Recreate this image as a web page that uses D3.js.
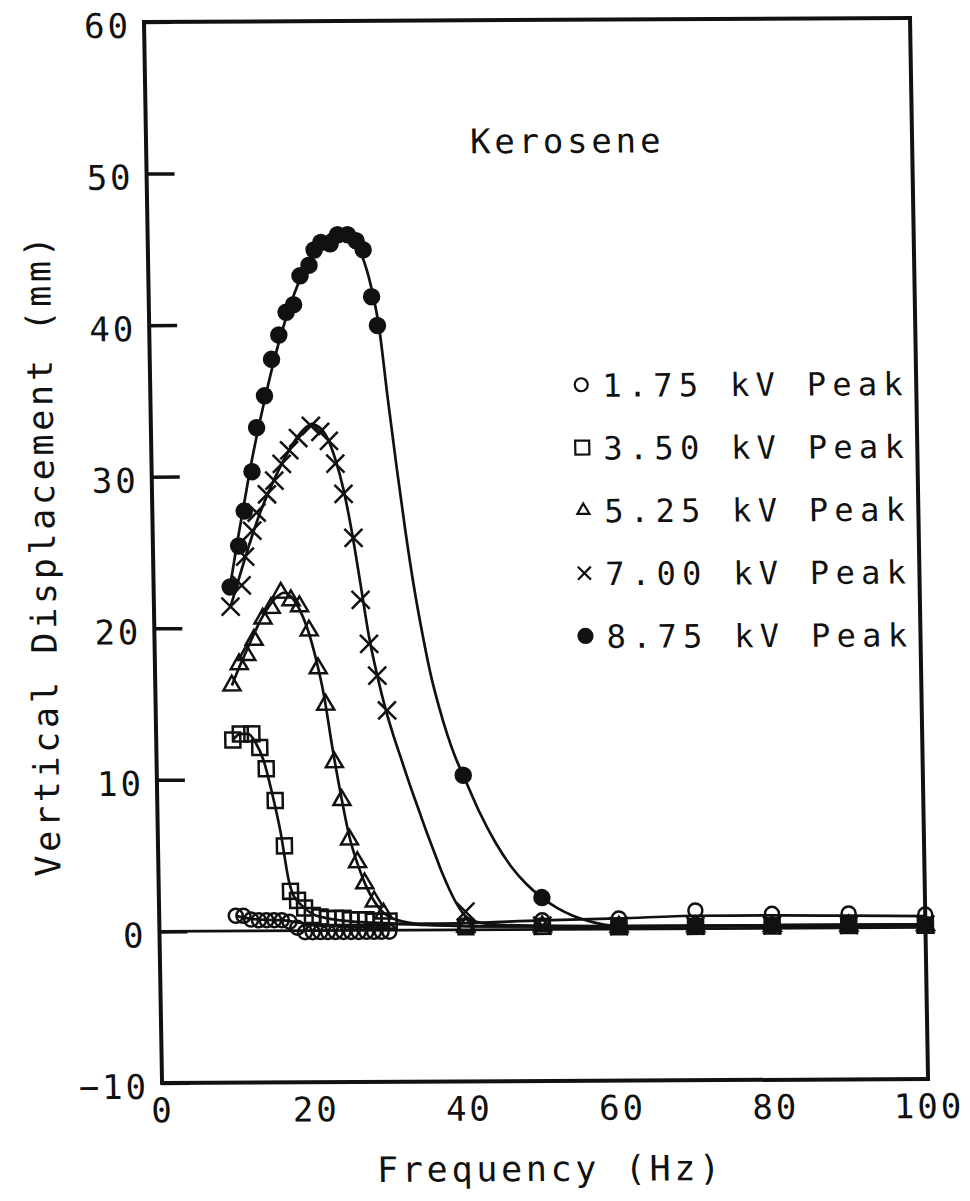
<!DOCTYPE html>
<meta charset="utf-8">
<style>
  body { margin: 0; background: #fff; }
  svg text { font-family: "DejaVu Sans Mono", monospace; fill: #111; }
  .axis text { font-size: 34px; letter-spacing: 3px; }
  .axis line { stroke: #111; stroke-width: 3.5px; }
  .curve { fill: none; stroke: #111; stroke-width: 2.7px; }
  .mark { stroke: #111; stroke-width: 2.5px; }
</style>
<body>
<script src="https://cdn.jsdelivr.net/npm/d3@7/dist/d3.min.js"></script>
<script>

  var xTicks = [0, 20, 40, 60, 80, 100];
  var yTicks = [-10, 0, 10, 20, 30, 40, 50, 60];
  var legendLabels = ["1.75 kV Peak", "3.50 kV Peak", "5.25 kV Peak", "7.00 kV Peak", "8.75 kV Peak"];
  var legendMarks = ["circle", "square", "triangle", "cross", "dot"];

  // measured points (Hz, mm)
  var f175 = [10,11,12,13,14,15,16,17,18,19,20,21,22,23,24,25,26,27,28,29,30,40,50,60,70,80,90,100];
  var d175 = [1.0,1.0,0.75,0.7,0.7,0.7,0.7,0.6,0.2,-0.1,-0.1,-0.1,-0.1,-0.1,-0.1,-0.1,-0.1,-0.1,-0.1,-0.1,-0.1,0.3,0.6,0.7,1.2,0.95,0.95,0.85];
  var f350 = [10,11,12.5,13.5,14.3,15.4,16.5,17.2,18.1,19,20,21,22,23,24,25,26,27,28,29,30,40,50,60,70,80,90,100];
  var d350 = [12.6,13.0,13.0,12.1,10.7,8.6,5.6,2.6,2.0,1.5,1.0,0.9,0.8,0.8,0.8,0.7,0.7,0.7,0.6,0.6,0.6,0.2,0.2,0.15,0.15,0.15,0.15,0.15];
  var f525 = [10,11,12,13,14.2,15.3,16.6,17.9,19,20.2,21.3,22.2,23.2,24.1,25,26,26.9,28.1,29.3,40,50,60,70,80,90,100];
  var d525 = [16.2,17.6,18.2,19.2,20.6,21.3,22.3,21.8,21.4,19.8,17.3,14.9,11.1,8.6,6.0,4.5,3.1,1.9,1.1,0.2,0.2,0.15,0.15,0.15,0.15,0.15];
  var f700 = [10,11.5,12,13,13.6,15,16,17,18,19.2,20.9,22.1,23.2,24,25,26.2,27,28,29,30.2,40,50,60,70,80,90,100];
  var d700 = [21.4,22.8,24.7,26.4,27.6,28.8,29.7,30.8,31.7,32.5,33.3,32.9,32.3,30.8,28.8,25.9,21.8,18.9,16.8,14.5,1.2,0.25,0.2,0.2,0.2,0.2,0.2];
  var f875 = [10,11.2,12,13.1,13.8,14.9,15.9,16.9,17.9,18.9,19.8,21,21.7,22.6,23.8,24.8,26.1,27.2,28.1,29.1,29.8,40,50,60,70,80,90,100];
  var d875 = [22.7,25.4,27.7,30.3,33.2,35.3,37.7,39.3,40.8,41.3,43.2,43.9,44.9,45.4,45.3,45.9,45.9,45.5,44.9,41.8,39.9,10.2,2.1,0.25,0.2,0.2,0.2,0.2];

  // drawn smooth curves
  var fitF175 = [10,12,14,16,18,20,25,30,40,50,60,70,80,90,100];
  var fitV175 = [1.0,0.8,0.72,0.7,0.55,0.4,0.35,0.4,0.45,0.6,0.7,0.85,0.85,0.8,0.75];
  var fitF350 = [10,11,12,13,14,15,16,17,17.5,18,19,20,22,25,30,40,50,60,100];
  var fitV350 = [12.6,13.0,13.0,12.4,11.2,9.1,6.6,3.3,2.4,2.0,1.5,1.1,0.8,0.6,0.45,0.25,0.2,0.15,0.15];
  var fitF525 = [10,11,12,13,14,15,16,17,18,19,20,21,22,23,24,25,26,27,28,29,30,32,35,40,50,60,100];
  var fitV525 = [16.2,17.4,18.5,19.6,20.6,21.4,22.0,22.3,22.0,21.2,19.9,18.0,15.5,12.0,8.9,6.2,4.4,3.0,2.0,1.3,0.9,0.55,0.35,0.25,0.2,0.15,0.15];
  var fitF700 = [10,11,12,13,14,15,16,17,18,19,20,21,22,23,24,25,26,27,28,29,30,31,32,33,34,35,36,37,38,39,40,42,45,50,60,100];
  var fitV700 = [21.4,23.0,24.6,26.1,27.5,28.7,29.8,30.8,31.7,32.5,33.1,33.4,33.2,32.5,31.1,29.1,26.3,22.9,19.4,16.8,14.6,12.8,11.2,9.6,8.1,6.6,5.2,3.8,2.6,1.6,0.9,0.45,0.3,0.25,0.2,0.2];
  var fitF875 = [10,11,12,13,14,15,16,17,18,19,20,21,22,23,24,25,26,27,28,29,30,31,32,33,34,35,36,37,38,39,40,42,44,46,48,50,52,54,56,58,60,100];
  var fitV875 = [22.8,25.6,28.2,30.8,33.1,35.2,37.2,39.0,40.6,42.0,43.2,44.2,45.0,45.6,46.0,46.1,45.9,45.4,44.4,42.6,39.8,35.0,30.5,26.3,22.6,19.5,16.8,14.7,12.9,11.4,10.2,7.8,5.8,4.2,3.0,2.1,1.4,0.9,0.55,0.3,0.2,0.2];

  var series = [
    {f: f175, v: d175, ff: fitF175, fv: fitV175, mark: "circle"},
    {f: f350, v: d350, ff: fitF350, fv: fitV350, mark: "square"},
    {f: f525, v: d525, ff: fitF525, fv: fitV525, mark: "triangle"},
    {f: f700, v: d700, ff: fitF700, fv: fitV700, mark: "cross"},
    {f: f875, v: d875, ff: fitF875, fv: fitV875, mark: "dot"}
  ];

  var W = 766, H = 1061;
  var svg = d3.select("body").append("svg").attr("width", 970).attr("height", 1201);
  // the scanned figure is slightly sheared
  var g = svg.append("g").attr("transform", "matrix(1,-0.0052,0.017,1,144,22)");

  var x = d3.scaleLinear().domain([0, 100]).range([0, W]);
  var y = d3.scaleLinear().domain([-10, 60]).range([H, 0]);

  g.append("g").attr("class", "axis")
          .call(d3.axisLeft(y).tickValues(yTicks).tickSizeInner(-28).tickSizeOuter(0)
                  .tickPadding(13).tickFormat(d3.format("d")))
          .call(a => a.select(".domain").remove())
          .selectAll("text").attr("dy", "0.45em");

  g.append("g").attr("class", "axis")
          .attr("transform", "translate(0," + H + ")")
          .call(d3.axisBottom(x).tickValues(xTicks).tickSize(0).tickPadding(15))
          .call(a => a.select(".domain").remove());

  g.append("line")
          .attr("x1", x(0)).attr("x2", x(100))
          .attr("y1", y(0)).attr("y2", y(0))
          .attr("stroke", "#111").attr("stroke-width", 2.7);

  g.append("rect")
          .attr("width", W).attr("height", H)
          .attr("fill", "none").attr("stroke", "#111").attr("stroke-width", 4);

  var line = d3.line().x(d => x(d[0])).y(d => y(d[1])).curve(d3.curveMonotoneX);

  g.selectAll(".curve").data(series).enter().append("path")
          .attr("class", "curve")
          .attr("d", d => line(d3.zip(d.ff, d.fv)));

  function markPath(kind, s) {
    if (kind == "circle" || kind == "dot")
      return d3.symbol().type(d3.symbolCircle).size(Math.PI * s * s / 4)();
    if (kind == "square")
      return d3.symbol().type(d3.symbolSquare).size(s * s)();
    if (kind == "triangle")
      return d3.symbol().type(d3.symbolTriangle).size(Math.sqrt(3) / 4 * s * s)();
    var h = s / 2;
    return "M" + (-h) + "," + (-h) + "L" + h + "," + h + "M" + (-h) + "," + h + "L" + h + "," + (-h);
  }
  var plotSize = {circle: 14, square: 15, triangle: 17, cross: 18, dot: 15};
  var legSize = {circle: 13, square: 14, triangle: 12, cross: 13, dot: 14};

  series.forEach(function(s) {
    g.selectAll(null).data(d3.zip(s.f, s.v)).enter().append("path")
            .attr("class", "mark")
            .attr("transform", d => "translate(" + x(d[0]) + "," + y(d[1]) + ")")
            .attr("d", markPath(s.mark, plotSize[s.mark]))
            .attr("fill", s.mark == "dot" ? "#111" : "none");
  });

  g.append("text")
          .attr("x", 324).attr("y", 133)
          .style("font-size", "34px").style("letter-spacing", "3.8px")
          .text("Kerosene");

  var leg = g.selectAll(".leg").data(legendLabels).enter().append("g")
          .attr("class", "leg")
          .attr("transform", (d, i) => "translate(0," + (377 + i * 62.8) + ")");
  leg.append("path")
          .attr("class", "mark")
          .attr("transform", "translate(431,-12)")
          .attr("d", (d, i) => markPath(legendMarks[i], legSize[legendMarks[i]]))
          .attr("fill", (d, i) => legendMarks[i] == "dot" ? "#111" : "none")
          .style("stroke-width", "2.2px");
  leg.append("text")
          .attr("x", 452)
          .style("font-size", "32px").style("letter-spacing", "6.3px")
          .text(d => d);

  g.append("text")
          .attr("transform", "translate(-98,532) rotate(-90)")
          .attr("text-anchor", "middle")
          .style("font-size", "35px").style("letter-spacing", "3.7px")
          .text("Vertical Displacement (mm)");

  g.append("text")
          .attr("x", 387).attr("y", 1161)
          .attr("text-anchor", "middle")
          .style("font-size", "35px").style("letter-spacing", "3.7px")
          .text("Frequency (Hz)");
</script>
</body>
</html>
